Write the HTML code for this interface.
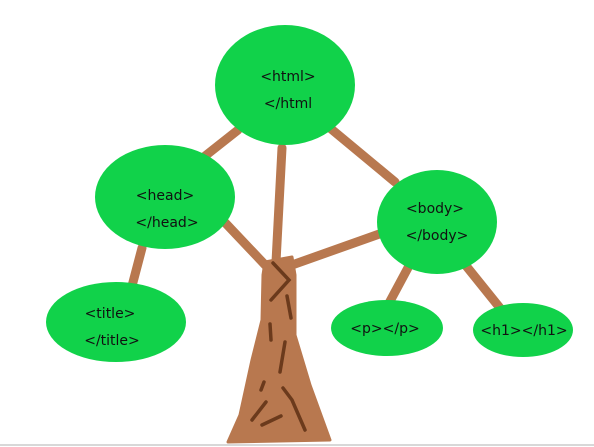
<!DOCTYPE html>
<html><head><style>body{margin:0;background:#fff}svg{display:block}</style></head><body>
<svg width="594" height="447" xmlns="http://www.w3.org/2000/svg" font-family="DejaVu Sans, Liberation Sans, sans-serif">
<rect width="594" height="447" fill="#fff"/>
<line x1="0" y1="445" x2="594" y2="445" stroke="#d8d8d8" stroke-width="2"/>
<g stroke="#b8784f" stroke-width="9" stroke-linecap="round">
<line x1="238" y1="130" x2="200" y2="160"/>
<line x1="330" y1="128" x2="395" y2="182"/>
<line x1="282" y1="148" x2="276" y2="262"/>
<line x1="215" y1="212" x2="268" y2="268"/>
<line x1="385" y1="232" x2="292" y2="265"/>
<line x1="142" y1="248" x2="132" y2="286"/>
<line x1="410" y1="264" x2="388" y2="305"/>
<line x1="463" y1="262" x2="500" y2="308"/>
</g>
<path d="M265 262 L292 257 L295 275 L295 335 L310 385 L330 440 L228 442 L240 415 L252 360 L262 320 L263 275 Z" fill="#b8784f" stroke="#b8784f" stroke-width="3" stroke-linejoin="round"/>
<g stroke="#6b3a1c" stroke-width="3.5" stroke-linecap="round" fill="none">
<path d="M273 263 L289 280 L271 300"/>
<path d="M287 296 L291 318"/>
<path d="M270 324 L271 340"/>
<path d="M285 342 L280 372"/>
<path d="M264 382 L261 390"/>
<path d="M283 388 L292 400 L305 430"/>
<path d="M266 402 L252 420"/>
<path d="M262 425 L281 416"/>
</g>
<g fill="#11d24a">
<ellipse cx="285" cy="85" rx="70" ry="60"/>
<ellipse cx="165" cy="197" rx="70" ry="52"/>
<ellipse cx="437" cy="222" rx="60" ry="52"/>
<ellipse cx="116" cy="322" rx="70" ry="40"/>
<ellipse cx="387" cy="328" rx="56" ry="28"/>
<ellipse cx="523" cy="330" rx="50" ry="27"/>
</g>
<g font-size="14" fill="#111" text-anchor="middle">
<text x="288" y="81">&lt;html&gt;</text><text x="288" y="108">&lt;/html</text>
<text x="165" y="200">&lt;head&gt;</text><text x="167" y="227">&lt;/head&gt;</text>
<text x="435" y="213">&lt;body&gt;</text><text x="437" y="240">&lt;/body&gt;</text>
<text x="110" y="318">&lt;title&gt;</text><text x="112" y="345">&lt;/title&gt;</text>
<text x="385" y="333">&lt;p&gt;&lt;/p&gt;</text>
<text x="524" y="335">&lt;h1&gt;&lt;/h1&gt;</text>
</g>
</svg>
</body></html>
